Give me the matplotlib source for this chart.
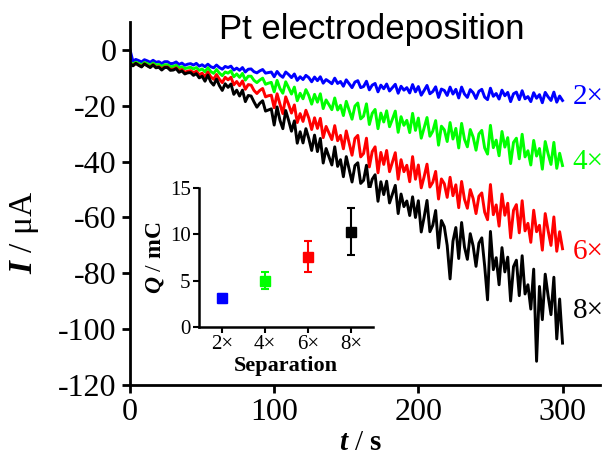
import numpy as np
import matplotlib
matplotlib.use('Agg')
import matplotlib.pyplot as plt

plt.rcParams['font.family'] = ['Liberation Serif', 'DejaVu Serif']
plt.rcParams['axes.unicode_minus'] = False
plt.rcParams['mathtext.fontset'] = 'custom'
plt.rcParams['mathtext.rm'] = 'Liberation Serif'
plt.rcParams['mathtext.it'] = 'Liberation Serif:italic'
plt.rcParams['mathtext.bf'] = 'Liberation Serif:bold'
plt.rcParams['mathtext.bfit'] = 'Liberation Serif:bold:italic'

# current traces, one value every 2 s from 0 to 300 s (uA)
i_2x = [0.0, -4.0, -3.4, -3.8, -4.3, -3.5, -3.9, -4.4, -3.7, -4.4,
        -4.2, -4.9, -4.2, -4.2, -4.9, -4.8, -4.3, -5.2, -4.7, -5.5,
        -5.1, -4.9, -5.4, -4.8, -5.8, -5.3, -6.0, -5.1, -6.0, -6.4,
        -5.4, -6.3, -6.9, -5.9, -6.3, -5.8, -7.2, -6.5, -7.3, -6.3,
        -7.9, -6.9, -6.8, -7.8, -8.2, -7.5, -7.0, -8.3, -8.1, -7.9,
        -9.6, -7.7, -9.0, -9.8, -7.9, -8.8, -9.9, -8.6, -10.9, -9.6,
        -10.6, -9.1, -9.9, -11.4, -9.7, -11.0, -9.6, -11.9, -10.6, -11.3,
        -12.1, -10.1, -12.0, -11.3, -13.0, -10.7, -12.1, -13.5, -11.5, -11.0,
        -13.5, -13.1, -11.2, -14.3, -12.6, -12.0, -15.0, -12.6, -13.9, -12.2,
        -14.7, -13.5, -12.3, -15.5, -13.0, -14.4, -13.5, -15.4, -12.4, -15.0,
        -13.1, -16.2, -14.5, -12.7, -15.7, -14.9, -13.2, -17.0, -14.0, -14.5,
        -16.3, -13.3, -15.8, -14.1, -17.2, -13.3, -15.8, -17.0, -14.2, -15.3,
        -17.4, -14.8, -14.1, -16.9, -17.8, -13.7, -16.6, -15.6, -17.6, -14.4,
        -16.4, -15.2, -18.5, -15.7, -15.1, -17.8, -14.6, -17.5, -16.7, -18.5,
        -15.3, -17.3, -16.0, -18.9, -15.2, -16.8, -18.1, -15.1, -18.7, -16.5,
        -18.1]

i_4x = [-4.4, -5.0, -4.4, -4.8, -5.3, -4.5, -4.9, -5.4, -4.7, -5.4,
        -5.2, -5.9, -5.3, -5.3, -6.0, -5.9, -5.5, -6.4, -6.0, -6.7,
        -6.4, -6.2, -6.8, -6.3, -7.3, -6.8, -7.8, -6.4, -7.7, -8.4,
        -7.0, -8.3, -9.2, -7.9, -8.3, -7.5, -9.6, -8.6, -9.8, -8.4,
        -10.8, -9.4, -9.4, -10.9, -11.7, -10.8, -10.1, -12.3, -11.9, -11.6,
        -15.0, -10.9, -13.8, -15.5, -11.4, -13.5, -15.8, -13.3, -18.2, -15.5,
        -17.5, -14.2, -16.3, -19.4, -15.9, -18.7, -15.7, -21.0, -17.9, -19.6,
        -21.4, -17.2, -21.5, -19.8, -23.5, -18.4, -21.6, -24.8, -20.1, -19.0,
        -24.7, -23.7, -19.3, -26.7, -22.7, -21.3, -28.2, -22.6, -25.8, -21.8,
        -27.5, -24.8, -21.9, -29.5, -23.9, -27.0, -25.2, -29.6, -22.7, -28.8,
        -24.4, -31.6, -27.9, -24.2, -30.9, -29.1, -25.3, -34.1, -27.3, -28.6,
        -32.8, -26.0, -31.9, -28.1, -35.1, -26.3, -32.0, -34.7, -28.5, -31.2,
        -35.9, -30.1, -28.8, -35.1, -37.3, -27.0, -35.0, -32.3, -37.9, -29.2,
        -34.8, -31.4, -40.7, -33.1, -31.6, -39.0, -30.2, -38.3, -36.1, -41.2,
        -32.4, -38.0, -35.3, -42.7, -32.8, -37.2, -41.0, -33.1, -42.4, -37.0,
        -41.4]

i_6x = [-4.8, -5.6, -4.8, -5.4, -5.9, -5.0, -5.6, -6.1, -5.3, -6.2,
        -6.0, -6.8, -6.1, -6.1, -7.0, -6.9, -6.4, -7.5, -7.0, -8.0,
        -7.6, -7.4, -8.2, -7.6, -8.9, -8.3, -9.6, -7.9, -9.6, -10.5,
        -8.8, -10.5, -11.7, -9.8, -10.7, -9.8, -12.5, -11.3, -12.8, -11.1,
        -14.1, -12.4, -12.6, -14.5, -15.6, -14.5, -13.8, -16.8, -16.4, -16.2,
        -20.7, -15.7, -19.4, -22.8, -16.8, -19.5, -22.6, -19.7, -26.0, -22.8,
        -25.6, -21.6, -24.4, -28.5, -24.3, -28.1, -24.5, -31.4, -27.4, -29.8,
        -32.1, -27.1, -32.5, -30.6, -35.4, -29.0, -33.3, -37.7, -31.7, -30.6,
        -38.3, -37.1, -31.6, -41.9, -36.4, -34.7, -44.0, -36.7, -41.0, -36.0,
        -43.6, -40.2, -36.8, -46.3, -39.3, -43.6, -41.3, -47.2, -38.2, -46.3,
        -41.2, -49.4, -45.4, -40.9, -49.1, -47.4, -43.5, -53.4, -46.2, -47.9,
        -52.8, -45.6, -52.2, -48.3, -56.5, -47.1, -53.5, -56.7, -50.0, -53.2,
        -58.6, -52.4, -51.2, -58.1, -60.8, -48.2, -59.0, -55.5, -63.1, -51.6,
        -59.2, -54.9, -67.3, -57.4, -55.4, -65.5, -54.0, -64.8, -62.1, -68.9,
        -57.4, -65.1, -62.8, -71.7, -58.6, -64.7, -70.0, -59.8, -72.1, -65.1,
        -71.2]

i_8x = [-4.8, -5.7, -4.8, -5.5, -6.1, -5.0, -5.7, -6.3, -5.4, -6.4,
        -6.2, -7.2, -6.3, -6.3, -7.3, -7.2, -6.7, -8.0, -7.5, -8.6,
        -8.2, -8.1, -9.1, -8.5, -10.0, -9.4, -11.2, -9.0, -11.4, -12.6,
        -10.4, -12.8, -14.5, -12.1, -13.4, -12.2, -15.9, -14.4, -16.5, -14.4,
        -18.5, -16.3, -16.5, -18.6, -20.5, -19.1, -18.2, -21.9, -21.5, -21.1,
        -26.9, -20.4, -25.2, -28.2, -21.7, -25.2, -29.1, -25.4, -33.4, -29.3,
        -33.3, -28.2, -31.7, -36.0, -30.5, -36.4, -31.7, -40.5, -35.3, -38.3,
        -41.2, -34.7, -41.7, -39.3, -45.4, -38.2, -42.7, -47.3, -41.4, -40.4,
        -47.8, -46.7, -41.3, -50.2, -46.3, -44.7, -54.2, -47.2, -51.8, -47.0,
        -54.8, -51.7, -48.5, -58.6, -51.6, -56.1, -54.1, -59.3, -52.6, -60.0,
        -54.0, -65.2, -59.9, -53.9, -65.1, -62.8, -57.5, -70.9, -61.1, -63.3,
        -70.0, -82.0, -68.5, -63.6, -74.7, -61.8, -70.6, -75.0, -65.8, -70.2,
        -77.5, -69.2, -67.3, -77.4, -89.5, -65.0, -78.7, -74.4, -84.1, -70.8,
        -79.5, -74.2, -89.9, -77.6, -75.3, -88.0, -73.7, -87.4, -84.1, -92.8,
        -78.5, -111.5, -84.7, -96.6, -80.3, -88.0, -94.8, -81.4, -103.5, -89.2,
        -105.0]

# inset: deposited charge vs separation
sep_labels = ['2×', '4×', '6×', '8×']
charge = [3.1, 5.0, 7.6, 10.3]
charge_err = [0.5, 0.95, 1.7, 2.5]

colors = ['#0000ff', '#00ff00', '#ff0000', '#000000']
traces = [i_2x, i_4x, i_6x, i_8x]

fig = plt.figure(figsize=(6.13, 4.59), dpi=100)
ax = fig.add_axes([0.2121, 0.1612, 0.7667, 0.7908])

for y, c in zip(traces, colors):
    t = np.linspace(0, 300, len(y))
    ax.plot(t, y, color=c, lw=2.1)

ax.set_xlim(0, 326)
ax.set_ylim(-120, 10)
ax.set_xticks([0, 100, 200, 300])
ax.set_yticks([0, -20, -40, -60, -80, -100, -120])
for s in ['top', 'right']:
    ax.spines[s].set_visible(False)
for s in ['left', 'bottom']:
    ax.spines[s].set_linewidth(2)
ax.tick_params(labelsize=23, width=2, length=6, direction='out')

ax.set_xlabel(r'$\mathbfit{t}$ / $\mathbf{s}$', fontsize=21)
ax.xaxis.set_label_coords(0.49, -0.125)
ax.set_ylabel(r'$\mathbfit{I}$ / μA', fontsize=24)
ax.yaxis.set_label_coords(-0.19, 0.42)

fig.text(0.607, 0.935, 'Pt electrodeposition', fontsize=25,
         family='Liberation Sans', ha='center', va='center')

# labels at the end of each trace
for lab, yv, c in zip(sep_labels, [-16.8, -40, -72.5, -93.5], colors):
    ax.text(307, yv, lab, color=c, fontsize=21, va='center', ha='left')

# inset
ins = fig.add_axes([0.3246, 0.2876, 0.2838, 0.3028])
xs = np.arange(1, len(charge) + 1)
for x, q, e, c in zip(xs, charge, charge_err, colors):
    ins.errorbar(x, q, yerr=e, fmt='s', color=c, ms=7, capsize=3,
                 elinewidth=1.5, capthick=1.5)
ins.set_xlim(0.47, 4.5)
ins.set_ylim(0, 15)
ins.set_xticks(xs)
ins.set_xticklabels(sep_labels)
ins.set_yticks([0, 5, 10, 15])
for s in ['top', 'right']:
    ins.spines[s].set_visible(False)
for s in ['left', 'bottom']:
    ins.spines[s].set_linewidth(1.8)
ins.tick_params(labelsize=15, width=1.5, length=4, direction='out', pad=2)
ins.set_xlabel('Separation', fontsize=16, fontweight='bold', labelpad=1)
ins.set_ylabel(r'$\mathbfit{Q}$ / $\mathbf{mC}$', fontsize=17, labelpad=3)

fig.savefig('out.png', dpi=100)
